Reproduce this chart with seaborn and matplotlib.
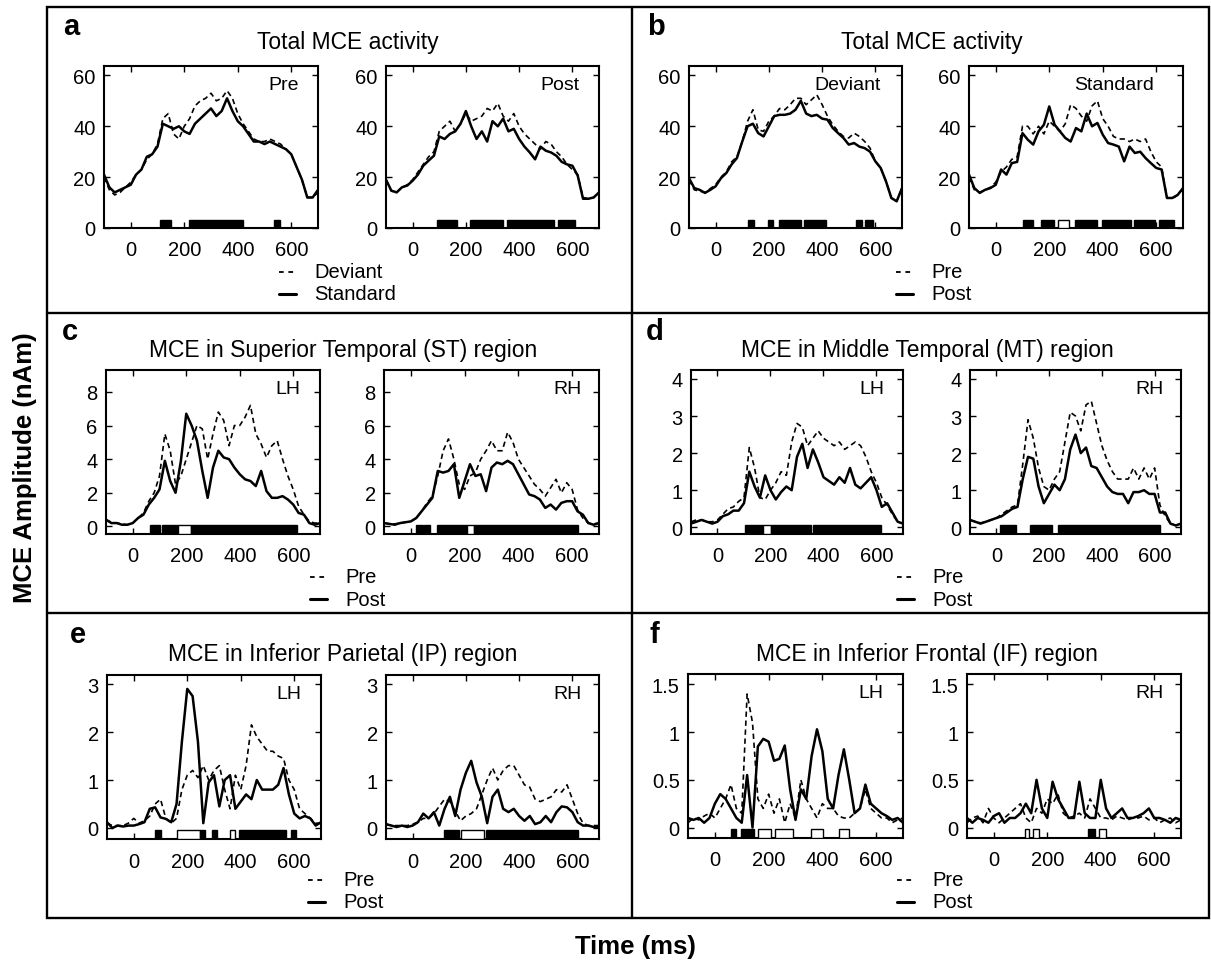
import numpy as np
import matplotlib
matplotlib.use("Agg")
import matplotlib.pyplot as plt
from matplotlib.lines import Line2D
from matplotlib.patches import Rectangle
import seaborn as sns

# ---------------- data ----------------
time_ms = np.arange(-100, 701, 20)

# panel a: Total MCE, Deviant vs Standard
a_pre_deviant = [20,15,13,14,16,18,21,23,27,29,33,43,45,37,35,40,43,48,50,51,53,50,51,54,51,45,41,38,35,34,34,35,34,33,31,29,24,19,12,12,14]
a_pre_standard = [21,16,14,15,16,17,21,23,28,29,32,41,40,39,40,38,37,41,43,45,47,44,46,51,46,42,40,37,34,34,33,34,33,32,31,29,24,19,12,12,15]
a_post_deviant = [19,14.5,14,16,17,19,22,25,28,30,38,40,42,38,41,45,42,43,44,47,46,49,44,42,45,40,37,35,33,31,34,33,30,28,25,23,21,12,11.5,12,14]
a_post_standard = [19,14.7,14,16,16.7,18.6,21,24.5,26.5,28.4,36,35,37,38,41,46,40,35,38,34,42,40,43,38,39,35,32,29.7,27,32,30.4,29.7,28.4,26,25,24.5,20.6,11.5,11.5,12,14]

# panel b: Total MCE, Pre vs Post
b_dev_pre = [19,15,14.5,14,15.5,17,20,22,26,28,34,42,46.5,38.6,38,42,44,47,46.5,48.5,51,51,48.5,50.4,52.4,48.5,44,40.6,38,36,35.4,37.3,36,34,31.4,26.2,23.6,18.3,11.8,10.5,15.7]
b_dev_post = [19.6,15.7,15,13.8,15,16.4,19.6,21.6,25,27.5,34,40,41,37.3,36,40,44,44.5,44.5,45,46.5,50,45,44,44.5,43,42.6,39.3,37.3,35.4,32.8,33.4,32,31.4,30,26.2,23.6,18.3,11.8,10.5,15.7]
b_std_pre = [20,15,14,15,16,18,22,24,27,28,40,40,37,40,37,42,40,38,41,48.5,47,44,42,48,50,43,40,36,35,35,34,35,34,35,30,26,24,12,11.5,13,15.5]
b_std_post = [21,15.7,13.8,15,15.7,17,23,21,25.5,26,37.3,34.7,32.8,38,40.6,47.8,40.6,38,35.4,34,39.3,38,45,40,41.3,36.7,33.4,32.8,32,26.2,32,29.5,30,27.5,25.5,23.6,23,11.8,11.8,13,15.7]

# panel c: ST region
c_lh_pre = [0.4,0.25,0.2,0.15,0.1,0.2,0.5,0.8,1.5,2.0,3.0,5.5,4.5,2.5,3.0,4.0,5.0,6.0,5.8,4.0,5.5,6.8,6.3,4.8,6.0,6.0,6.5,7.2,5.5,4.9,4.1,4.8,5.1,4.0,3.0,2.2,1.2,0.7,0.3,0.2,0.2]
c_lh_post = [0.4,0.2,0.2,0.1,0.1,0.2,0.5,0.7,1.3,1.7,2.2,3.9,2.7,2.0,3.9,6.7,6.0,5.1,3.3,1.7,3.5,4.5,4.1,4.0,3.5,3.1,2.8,2.7,2.4,3.3,2.1,1.7,1.7,1.8,1.6,1.3,0.8,0.7,0.2,0.1,0.2]
c_rh_pre = [0.2,0.15,0.15,0.2,0.25,0.3,0.5,0.9,1.4,1.8,3.0,4.5,5.2,4.0,2.5,2.2,3.0,3.2,4.0,4.5,5.1,4.5,4.5,5.6,5.0,4.0,3.5,3.0,2.5,2.2,1.8,2.3,2.8,2.0,2.6,2.2,1.0,0.5,0.2,0.15,0.2]
c_rh_post = [0.2,0.15,0.1,0.2,0.25,0.3,0.5,0.9,1.3,1.7,3.3,3.2,3.3,3.7,1.7,2.7,3.7,3.0,3.1,2.1,3.5,3.8,3.7,3.9,3.7,3.1,2.5,1.9,1.8,1.6,1.1,1.3,1.0,1.4,1.5,1.5,0.9,0.7,0.2,0.1,0.2]

# panel d: MT region
d_lh_pre = [0.15,0.2,0.2,0.15,0.15,0.2,0.35,0.5,0.55,0.7,0.8,2.15,1.6,0.8,0.75,1.0,1.2,1.5,1.4,2.3,2.8,2.7,2.2,2.4,2.6,2.4,2.3,2.2,2.3,2.1,2.2,2.3,2.2,1.9,1.5,1.2,0.8,0.6,0.35,0.15,0.1]
d_lh_post = [0.1,0.15,0.2,0.15,0.1,0.15,0.3,0.35,0.45,0.45,0.65,1.5,1.1,0.8,1.4,1.0,0.75,0.95,1.1,1.0,1.9,2.25,1.6,2.1,1.75,1.35,1.25,1.15,1.35,1.2,1.6,1.15,1.05,1.2,1.35,1.0,0.55,0.65,0.4,0.15,0.1]
d_rh_pre = [0.2,0.15,0.12,0.15,0.2,0.25,0.35,0.45,0.55,0.6,1.7,2.9,2.4,1.6,1.1,1.0,1.3,1.5,2.3,3.1,3.0,2.6,3.3,3.4,2.8,2.2,1.8,1.5,1.3,1.3,1.3,1.6,1.3,1.6,1.3,1.6,0.6,0.3,0.1,0.05,0.1]
d_rh_post = [0.2,0.15,0.1,0.15,0.2,0.25,0.3,0.4,0.5,0.55,1.3,1.9,1.85,1.1,0.65,0.9,1.15,1.0,1.3,2.1,2.5,2.0,2.15,1.65,1.6,1.35,1.1,0.95,0.9,0.9,0.65,0.95,0.95,1.0,0.9,0.9,0.4,0.4,0.1,0.05,0.1]

# panel e: IP region
e_lh_pre = [0.1,0.05,0.05,0.05,0.1,0.2,0.1,0.15,0.25,0.5,0.6,0.2,0.1,0.2,0.8,1.1,1.2,1.05,1.3,1.0,1.2,1.3,0.8,0.4,1.1,0.8,1.3,2.15,1.9,1.75,1.6,1.6,1.5,1.45,1.0,0.8,0.4,0.3,0.2,0.1,0.1]
e_lh_post = [0.12,0.0,0.05,0.03,0.05,0.05,0.08,0.12,0.4,0.43,0.22,0.19,0.12,0.5,1.8,2.9,2.75,1.8,0.1,0.95,1.1,0.45,1.0,1.1,0.4,0.55,0.7,0.6,1.0,0.8,0.8,0.8,0.9,1.25,0.7,0.3,0.2,0.25,0.2,0.05,0.12]
e_rh_pre = [0.08,0.05,0.05,0.05,0.05,0.08,0.12,0.2,0.2,0.3,0.45,0.6,0.55,0.35,0.15,0.25,0.3,0.4,0.7,1.0,1.25,1.0,1.2,1.3,1.3,1.1,0.9,0.85,0.6,0.55,0.6,0.65,0.8,0.75,0.9,0.6,0.3,0.1,0.05,0.05,0.05]
e_rh_post = [0.08,0.05,0.02,0.05,0.02,0.05,0.12,0.3,0.2,0.33,0.05,0.4,0.65,0.25,0.8,1.15,1.4,0.95,0.65,0.1,0.65,0.8,0.4,0.33,0.4,0.25,0.15,0.25,0.08,0.12,0.25,0.12,0.33,0.45,0.43,0.33,0.12,0.05,0.05,0.02,0.02]

# panel f: IF region
f_lh_pre = [0.05,0.1,0.08,0.12,0.15,0.1,0.2,0.3,0.45,0.2,0.15,1.4,1.1,0.3,0.2,0.35,0.15,0.3,0.05,0.25,0.1,0.5,0.3,0.2,0.1,0.25,0.2,0.2,0.12,0.1,0.1,0.15,0.2,0.4,0.2,0.15,0.1,0.1,0.05,0.08,0.1]
f_lh_post = [0.1,0.08,0.1,0.05,0.1,0.25,0.35,0.3,0.2,0.1,0.05,0.55,0.0,0.85,0.93,0.9,0.7,0.72,0.86,0.4,0.08,0.4,0.3,0.75,1.03,0.8,0.3,0.2,0.55,0.82,0.5,0.15,0.2,0.45,0.25,0.2,0.15,0.12,0.08,0.1,0.05]
f_rh_pre = [0.05,0.1,0.12,0.05,0.2,0.1,0.05,0.1,0.15,0.2,0.25,0.1,0.05,0.2,0.15,0.3,0.25,0.35,0.15,0.1,0.12,0.15,0.1,0.3,0.2,0.1,0.1,0.08,0.12,0.1,0.08,0.1,0.1,0.12,0.08,0.1,0.05,0.08,0.1,0.05,0.08]
f_rh_post = [0.1,0.05,0.1,0.08,0.05,0.12,0.15,0.05,0.1,0.1,0.15,0.25,0.15,0.5,0.2,0.1,0.48,0.3,0.2,0.1,0.1,0.48,0.15,0.1,0.1,0.5,0.2,0.1,0.15,0.2,0.1,0.1,0.12,0.15,0.2,0.1,0.1,0.08,0.05,0.1,0.08]

# significance intervals (start ms, end ms, filled=1 / open=0)
a_pre_sig = [(109,130,1),(133,151,1),(216,419,1),(536,557,1)]
a_post_sig = [(93,166,1),(216,338,1),(353,532,1),(545,611,1)]
b_dev_sig = [(123,145,1),(195,216,1),(237,320,1),(331,415,1),(526,551,1),(562,591,1)]
b_std_sig = [(103,138,1),(168,216,1),(233,272,0),(297,380,1),(397,505,1),(515,594,1),(610,665,1)]
c_lh_sig = [(66,103,1),(108,170,1),(170,218,0),(218,614,1)]
c_rh_sig = [(19,44,1),(47,71,1),(96,207,1),(207,236,0),(236,621,1)]
d_lh_sig = [(103,173,1),(173,201,0),(201,352,1),(362,616,1)]
d_rh_sig = [(15,35,1),(38,74,1),(127,212,1),(233,621,1)]
e_lh_sig = [(81,101,1),(161,247,0),(247,267,1),(293,310,1),(361,379,0),(393,571,1),(586,607,1)]
e_rh_sig = [(118,150,1),(150,176,1),(183,269,0),(276,621,1)]
f_lh_sig = [(60,79,1),(97,146,1),(159,208,0),(224,290,0),(357,403,0),(460,500,0)]
f_rh_sig = [(115,133,0),(146,170,0),(354,377,1),(395,419,0)]

x_ticks = [0, 200, 400, 600]

# ---------------- style ----------------
sns.set_style("ticks")
plt.rcParams['font.family'] = ['Liberation Sans', 'DejaVu Sans']
plt.rcParams['text.color'] = 'black'
plt.rcParams['axes.labelcolor'] = 'black'
plt.rcParams['xtick.color'] = 'black'
plt.rcParams['ytick.color'] = 'black'
plt.rcParams['axes.edgecolor'] = 'black'

W, H = 1211, 962
fig = plt.figure(figsize=(W / 100, H / 100), dpi=100)
fig.patch.set_facecolor('white')


def box(l, t, r, b):
    return [l / W, 1 - b / H, (r - l) / W, (b - t) / H]


TICK_FS = 14.5

panels = [
    dict(letter='a', title='Total MCE activity', lxy=(71, 27), txy=(348, 43),
         leg=('Deviant', 'Standard'), legxy=(279, 273),
         axes=[((104, 67, 318, 229), a_pre_deviant, a_pre_standard, a_pre_sig, 'Pre', 0.91),
               ((386, 67, 599, 229), a_post_deviant, a_post_standard, a_post_sig, 'Post', 0.91)],
         ylim=(0, 63.7), yticks=[0, 20, 40, 60], ylabels=['0', '20', '40', '60']),
    dict(letter='b', title='Total MCE activity', lxy=(656, 27), txy=(932, 43),
         leg=('Pre', 'Post'), legxy=(896, 273),
         axes=[((689, 67, 902, 229), b_dev_pre, b_dev_post, b_dev_sig, 'Deviant', 0.90),
               ((969, 67, 1183, 229), b_std_pre, b_std_post, b_std_sig, 'Standard', 0.865)],
         ylim=(0, 63.7), yticks=[0, 20, 40, 60], ylabels=['0', '20', '40', '60']),
    dict(letter='c', title='MCE in Superior Temporal (ST) region', lxy=(70, 332), txy=(343, 350),
         leg=('Pre', 'Post'), legxy=(310, 578),
         axes=[((106, 371, 320, 535), c_lh_pre, c_lh_post, c_lh_sig, 'LH', 0.91),
               ((384, 371, 599, 535), c_rh_pre, c_rh_post, c_rh_sig, 'RH', 0.92)],
         ylim=(-0.45, 9.3), yticks=[0, 2, 4, 6, 8], ylabels=['0', '2', '4', '6', '8']),
    dict(letter='d', title='MCE in Middle Temporal (MT) region', lxy=(655, 332), txy=(927, 350),
         leg=('Pre', 'Post'), legxy=(897, 578),
         axes=[((691, 371, 903, 535), d_lh_pre, d_lh_post, d_lh_sig, 'LH', 0.91),
               ((970, 371, 1181, 535), d_rh_pre, d_rh_post, d_rh_sig, 'RH', 0.92)],
         ylim=(-0.18, 4.24), yticks=[0, 1, 2, 3, 4], ylabels=['0', '1', '2', '3', '4']),
    dict(letter='e', title='MCE in Inferior Parietal (IP) region', lxy=(78, 635), txy=(343, 655),
         leg=('Pre', 'Post'), legxy=(308, 881),
         axes=[((107, 676, 321, 840), e_lh_pre, e_lh_post, e_lh_sig, 'LH', 0.91),
               ((386, 676, 599, 840), e_rh_pre, e_rh_post, e_rh_sig, 'RH', 0.92)],
         ylim=(-0.23, 3.19), yticks=[0, 1, 2, 3], ylabels=['0', '1', '2', '3']),
    dict(letter='f', title='MCE in Inferior Frontal (IF) region', lxy=(654, 635), txy=(927, 655),
         leg=('Pre', 'Post'), legxy=(897, 881),
         axes=[((688, 675, 903, 839), f_lh_pre, f_lh_post, f_lh_sig, 'LH', 0.91),
               ((967, 675, 1181, 839), f_rh_pre, f_rh_post, f_rh_sig, 'RH', 0.92)],
         ylim=(-0.11, 1.61), yticks=[0, 0.5, 1, 1.5], ylabels=['0', '0.5', '1', '1.5']),
]

DASH = (0, (3.2, 2.2))

for p in panels:
    for (l, t, r, b), dashed_vals, solid_vals, sig, inner, inner_x in p['axes']:
        ax = fig.add_axes(box(l, t, r, b))
        sns.lineplot(x=time_ms, y=dashed_vals, ax=ax, color='black', lw=1.2,
                     linestyle=DASH, estimator=None)
        sns.lineplot(x=time_ms, y=solid_vals, ax=ax, color='black', lw=1.8,
                     linestyle='-', estimator=None)
        for s0, s1, filled in sig:
            ax.axvspan(s0, s1, ymin=0, ymax=0.052,
                       facecolor='black' if filled else 'white',
                       edgecolor='black', lw=1.0, zorder=3)
        ax.set_xlim(-100, 700)
        ax.set_ylim(*p['ylim'])
        ax.set_xticks(x_ticks)
        ax.set_xticklabels([str(v) for v in x_ticks])
        ax.set_yticks(p['yticks'])
        ax.set_yticklabels(p['ylabels'])
        ax.tick_params(direction='in', length=4, width=1.0, top=True, right=True,
                       labelsize=TICK_FS, colors='black')
        ax.tick_params(axis='x', pad=9)
        ax.tick_params(axis='y', pad=6)
        ax.set_xlabel('')
        ax.set_ylabel('')
        for sp in ax.spines.values():
            sp.set_color('black')
            sp.set_linewidth(1.5)
        ax.text(inner_x, 0.885, inner, transform=ax.transAxes, ha='right', va='center',
                fontsize=14, color='black')
        ax.set_facecolor('white')

    fig.text(p['lxy'][0] / W, 1 - p['lxy'][1] / H, p['letter'], fontsize=21,
             fontweight='bold', ha='center', va='center', color='black')
    fig.text(p['txy'][0] / W, 1 - p['txy'][1] / H, p['title'], fontsize=16.5,
             ha='center', va='center', color='black')

    lx, ly = p['legxy']
    fig.add_artist(Line2D([lx / W, (lx + 17) / W], [1 - ly / H, 1 - ly / H],
                          transform=fig.transFigure, color='black', lw=1.3,
                          linestyle=(0, (2.6, 2.6))))
    fig.add_artist(Line2D([lx / W, (lx + 17) / W], [1 - (ly + 22) / H, 1 - (ly + 22) / H],
                          transform=fig.transFigure, color='black', lw=2.2))
    fig.text((lx + 35) / W, 1 - ly / H, p['leg'][0], fontsize=14.5, ha='left',
             va='center', color='black')
    fig.text((lx + 35) / W, 1 - (ly + 22) / H, p['leg'][1], fontsize=14.5, ha='left',
             va='center', color='black')

fig.add_artist(Rectangle((47 / W, 1 - 919 / H), (1209 - 47) / W, (919 - 8) / H,
                         transform=fig.transFigure, fill=False, edgecolor='black', lw=1.7))
fig.add_artist(Line2D([632 / W, 632 / W], [1 - 8 / H, 1 - 919 / H],
                      transform=fig.transFigure, color='black', lw=1.7))
for yy in (314, 614):
    fig.add_artist(Line2D([47 / W, 1209 / W], [1 - yy / H, 1 - yy / H],
                          transform=fig.transFigure, color='black', lw=1.7))

fig.text(25 / W, 1 - 468 / H, 'MCE Amplitude (nAm)', rotation=90, fontsize=18.5,
         fontweight='bold', ha='center', va='center', color='black')
fig.text(635 / W, 1 - 947 / H, 'Time (ms)', fontsize=18.5, fontweight='bold',
         ha='center', va='center', color='black')

fig.savefig('out.png', dpi=100, facecolor='white')
